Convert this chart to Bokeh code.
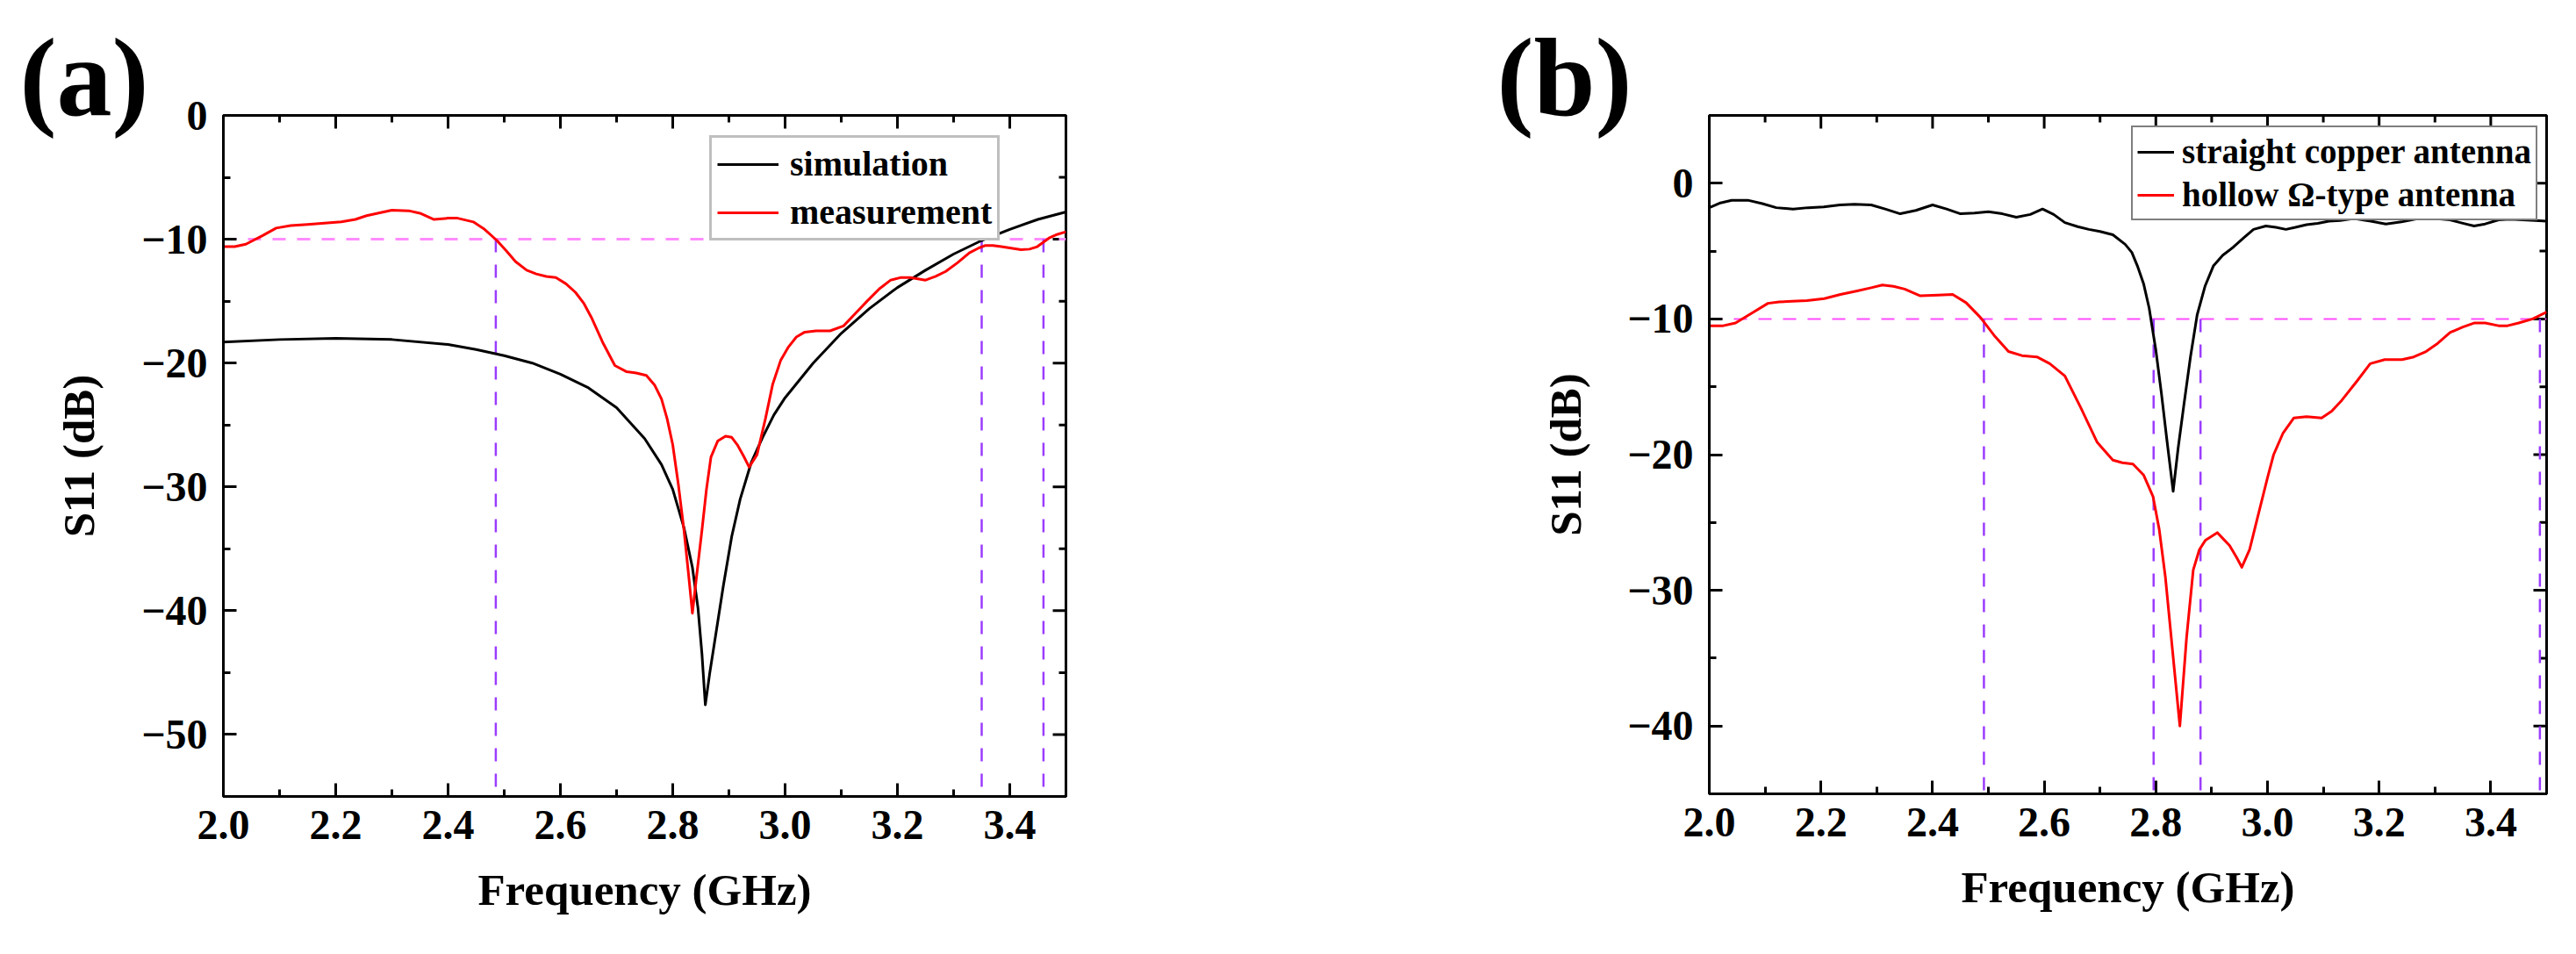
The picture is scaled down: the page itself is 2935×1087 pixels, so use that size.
import math
from bokeh.plotting import figure
from bokeh.models import Range1d, FixedTicker, Legend, LegendItem, Label
from bokeh.layouts import row, column
from bokeh.embed import file_html
from bokeh.resources import INLINE

FONT = "Liberation Serif"

# ---------------- data: panel (a) ----------------
sim_a_freq = [2.00, 2.10, 2.20, 2.30, 2.40, 2.45, 2.50, 2.55, 2.60, 2.65, 2.70, 2.75, 2.78,
              2.80, 2.82, 2.835, 2.845, 2.852, 2.858, 2.866, 2.877, 2.89, 2.905, 2.92, 2.94,
              2.96, 2.98, 3.00, 3.05, 3.10, 3.15, 3.20, 3.25, 3.30, 3.35, 3.40, 3.45, 3.50]
sim_a_s11 = [-18.3, -18.1, -18.0, -18.1, -18.5, -18.9, -19.4, -20.0, -20.9, -22.0, -23.6, -26.1,
             -28.2, -30.2, -33.3, -36.5, -39.8, -43.5, -47.6, -45.0, -41.8, -38.0, -34.0, -31.0,
             -28.0, -26.0, -24.2, -22.8, -20.0, -17.6, -15.6, -13.9, -12.5, -11.2, -10.1, -9.2,
             -8.4, -7.8]

meas_a_freq = [2.00, 2.02, 2.04, 2.07, 2.094, 2.12, 2.15, 2.18, 2.21, 2.235, 2.255, 2.28, 2.30,
               2.33, 2.35, 2.375, 2.40, 2.417, 2.445, 2.465, 2.487, 2.505, 2.52, 2.54, 2.557,
               2.575, 2.592, 2.61, 2.627, 2.642, 2.655, 2.675, 2.697, 2.718, 2.735, 2.753, 2.768,
               2.78, 2.79, 2.80, 2.81, 2.82, 2.828, 2.835, 2.843, 2.852, 2.86, 2.868, 2.88,
               2.894, 2.905, 2.915, 2.926, 2.936, 2.95, 2.965, 2.978, 2.992, 3.006, 3.02, 3.035,
               3.055, 3.08, 3.104, 3.125, 3.146, 3.168, 3.188, 3.205, 3.223, 3.25, 3.268, 3.286,
               3.307, 3.328, 3.345, 3.357, 3.37, 3.385, 3.40, 3.42, 3.435, 3.449, 3.47, 3.485,
               3.50]
meas_a_s11 = [-10.6, -10.6, -10.4, -9.7, -9.1, -8.9, -8.8, -8.7, -8.6, -8.4, -8.1, -7.85, -7.65,
              -7.7, -7.9, -8.4, -8.3, -8.3, -8.6, -9.2, -10.1, -11.0, -11.8, -12.5, -12.8,
              -13.0, -13.1, -13.6, -14.3, -15.2, -16.3, -18.3, -20.2, -20.7, -20.8, -21.0, -21.8,
              -22.9, -24.5, -26.6, -29.8, -33.5, -37.0, -40.2, -37.0, -33.5, -30.2, -27.6, -26.3,
              -25.9, -26.0, -26.6, -27.5, -28.4, -27.4, -24.5, -21.7, -19.8, -18.7, -17.9, -17.5,
              -17.4, -17.4, -17.0, -16.0, -15.0, -14.0, -13.3, -13.1, -13.1, -13.3, -13.0, -12.6,
              -11.9, -11.1, -10.7, -10.5, -10.5, -10.6, -10.7, -10.85, -10.8, -10.6, -9.9, -9.6,
              -9.4]

cut_freqs_a = [2.485, 3.35, 3.46]

# ---------------- data: panel (b) ----------------
copper_b_freq = [2.00, 2.02, 2.04, 2.069, 2.095, 2.12, 2.15, 2.177, 2.205, 2.234, 2.26, 2.29,
                 2.315, 2.342, 2.37, 2.40, 2.425, 2.45, 2.475, 2.50, 2.525, 2.55, 2.575, 2.597,
                 2.617, 2.637, 2.66, 2.68, 2.70, 2.723, 2.745, 2.757, 2.767, 2.778, 2.788, 2.80,
                 2.81, 2.82, 2.831, 2.84, 2.85, 2.862, 2.874, 2.888, 2.903, 2.92, 2.939, 2.958,
                 2.975, 2.997, 3.015, 3.033, 3.05, 3.07, 3.09, 3.11, 3.13, 3.155, 3.185, 3.212,
                 3.24, 3.27, 3.30, 3.327, 3.35, 3.37, 3.39, 3.414, 3.435, 3.457, 3.48, 3.50]
copper_b_s11 = [-1.8, -1.45, -1.26, -1.25, -1.5, -1.8, -1.9, -1.8, -1.75, -1.6, -1.55, -1.6,
                -1.9, -2.25, -2.0, -1.6, -1.9, -2.25, -2.2, -2.1, -2.25, -2.5, -2.3, -1.9,
                -2.3, -2.9, -3.2, -3.4, -3.55, -3.8, -4.5, -5.1, -6.1, -7.4, -9.2, -12.3,
                -15.5, -19.0, -22.7, -19.5, -16.4, -12.8, -9.7, -7.6, -6.1, -5.3, -4.7, -4.0,
                -3.4, -3.15, -3.25, -3.4, -3.25, -3.05, -2.95, -2.8, -2.75, -2.6, -2.8, -3.0,
                -2.85, -2.6, -2.6, -2.7, -2.95, -3.15, -3.0, -2.7, -2.65, -2.7, -2.75, -2.8]

omega_b_freq = [2.00, 2.025, 2.047, 2.075, 2.105, 2.125, 2.148, 2.175, 2.206, 2.235, 2.263,
                2.29, 2.31, 2.33, 2.35, 2.378, 2.41, 2.436, 2.46, 2.486, 2.51, 2.536, 2.56,
                2.587, 2.61, 2.637, 2.665, 2.695, 2.723, 2.74, 2.759, 2.778, 2.795, 2.806,
                2.817, 2.83, 2.843, 2.855, 2.867, 2.878, 2.889, 2.91, 2.932, 2.945, 2.954,
                2.968, 2.983, 3.0, 3.011, 3.028, 3.047, 3.07, 3.097, 3.115, 3.133, 3.16, 3.184,
                3.21, 3.241, 3.262, 3.284, 3.305, 3.327, 3.35, 3.37, 3.39, 3.414, 3.43, 3.45,
                3.475, 3.50]
omega_b_s11 = [-10.5, -10.5, -10.3, -9.6, -8.85, -8.75, -8.7, -8.65, -8.5, -8.2, -7.95,
               -7.7, -7.5, -7.6, -7.8, -8.3, -8.25, -8.2, -8.8, -9.9, -11.2, -12.4, -12.7,
               -12.8, -13.3, -14.2, -16.5, -19.1, -20.4, -20.6, -20.7, -21.5, -23.1, -25.5,
               -29.0, -34.5, -40.0, -33.5, -28.5, -27.0, -26.3, -25.75, -26.7, -27.6, -28.3,
               -27.0, -24.5, -21.7, -20.0, -18.4, -17.3, -17.2, -17.3, -16.8, -16.0, -14.6,
               -13.3, -13.0, -13.0, -12.8, -12.4, -11.8, -11.0, -10.6, -10.3, -10.3, -10.5,
               -10.5, -10.3, -10.0, -9.5]

cut_freqs_b = [2.492, 2.796, 2.88, 3.488]

ref_level = -10
panel_tags = ["(a)", "(b)"]

# ---------------- axes / ticks ----------------
x_range = (2.0, 3.5)
x_ticks = [2.0, 2.2, 2.4, 2.6, 2.8, 3.0, 3.2, 3.4]
x_tick_labels = ["2.0", "2.2", "2.4", "2.6", "2.8", "3.0", "3.2", "3.4"]
x_minor = [2.1, 2.3, 2.5, 2.7, 2.9, 3.1, 3.3, 3.5]

y_range_a = (-55, 0)
y_ticks_a = [0, -10, -20, -30, -40, -50]
y_tick_labels_a = ["0", "\u221210", "\u221220", "\u221230", "\u221240", "\u221250"]
y_minor_a = [-5, -15, -25, -35, -45, -55]

y_range_b = (-45, 5)
y_ticks_b = [0, -10, -20, -30, -40]
y_tick_labels_b = ["0", "\u221210", "\u221220", "\u221230", "\u221240"]
y_minor_b = [5, -5, -15, -25, -35, -45]

x_title = "Frequency (GHz)"
y_title = "S11 (dB)"

MAJOR_LEN = 15
MINOR_LEN = 8

# page geometry (px)
TOTAL_H = 1071
HEAD_H = 160       # strip holding the (a)/(b) tag
OVERLAP = 68       # chart figure slides up under the tag strip
TOP_BORDER = 39    # chart figure top -> frame top


def no_frame_align(fig):
    try:
        fig.frame_align = False
    except AttributeError:
        pass


def style_axis(ax, ticks, minor, labels, standoff, label_standoff):
    ax.ticker = FixedTicker(ticks=ticks, minor_ticks=minor)
    ax.axis_line_color = "black"
    ax.axis_line_width = 3
    ax.major_tick_line_color = "black"
    ax.major_tick_line_width = 3
    ax.major_tick_in = MAJOR_LEN
    ax.major_tick_out = 0
    ax.minor_tick_line_color = "black"
    ax.minor_tick_line_width = 3
    ax.minor_tick_in = MINOR_LEN
    ax.minor_tick_out = 0
    ax.major_label_overrides = dict(zip(ticks, labels))
    ax.major_label_text_font = FONT
    ax.major_label_text_font_style = "bold"
    ax.major_label_text_font_size = "48px"
    ax.major_label_text_color = "black"
    ax.major_label_standoff = standoff
    ax.axis_label_text_font = FONT
    ax.axis_label_text_font_style = "bold"
    ax.axis_label_text_font_size = "51px"
    ax.axis_label_text_color = "black"
    ax.axis_label_standoff = label_standoff


def make_header(width, tag, tag_x, tag_y):
    h = figure(width=width, height=HEAD_H, output_backend="svg", toolbar_location=None,
               x_range=Range1d(0, width), y_range=Range1d(0, HEAD_H),
               x_axis_type=None, y_axis_type=None,
               min_border_left=0, min_border_right=0, min_border_top=0, min_border_bottom=0)
    no_frame_align(h)
    h.outline_line_color = None
    h.grid.visible = False
    h.add_layout(Label(x=tag_x, y=tag_y, text=tag, text_font=FONT, text_font_style="bold",
                       text_font_size="126px", text_baseline="middle", text_align="left",
                       text_color="black"))
    return h


def make_panel(width, borders, y_rng, y_ticks, y_labels, y_minor, ylab_standoff):
    height = TOTAL_H - HEAD_H + OVERLAP
    p = figure(width=width, height=height, output_backend="svg", toolbar_location=None,
               x_range=Range1d(*x_range), y_range=Range1d(*y_rng),
               min_border_left=borders[0], min_border_right=borders[1],
               min_border_top=TOP_BORDER, min_border_bottom=borders[2])
    no_frame_align(p)
    p.margin = (-OVERLAP, 0, 0, 0)
    p.grid.visible = False
    p.outline_line_color = "black"
    p.outline_line_width = 3
    p.background_fill_color = "white"
    p.border_fill_alpha = 0.0
    p.xaxis.axis_label = x_title
    p.yaxis.axis_label = y_title
    style_axis(p.xaxis[0], x_ticks, x_minor, x_tick_labels, 16, 27)
    style_axis(p.yaxis[0], y_ticks, y_minor, y_labels, 18, ylab_standoff)
    # mirrored inward ticks on the top and right edges of the frame
    for tk, ln in ((x_ticks, MAJOR_LEN), (x_minor, MINOR_LEN)):
        p.ray(x=tk, y=[y_rng[1]] * len(tk), length=ln, angle=-math.pi / 2,
              length_units="screen", line_color="black", line_width=3)
    for tk, ln in ((y_ticks, MAJOR_LEN), (y_minor, MINOR_LEN)):
        p.ray(x=[x_range[1]] * len(tk), y=tk, length=ln, angle=math.pi,
              length_units="screen", line_color="black", line_width=3)
    return p


def style_legend(leg, size, gw, gh, standoff, spacing, padding, border_color, border_width):
    leg.label_text_font = FONT
    leg.label_text_font_style = "bold"
    leg.label_text_font_size = size
    leg.label_text_color = "black"
    leg.glyph_width = gw
    leg.glyph_height = gh
    leg.label_height = gh
    leg.label_standoff = standoff
    leg.spacing = spacing
    leg.padding = padding
    leg.margin = 0
    leg.border_line_color = border_color
    leg.border_line_width = border_width
    leg.background_fill_color = "white"
    leg.background_fill_alpha = 1.0


# ---------------- panel (a) ----------------
ha = make_header(1470, panel_tags[0], 22, HEAD_H - 88)
pa = make_panel(1470, (254, 256, 164), y_range_a, y_ticks_a, y_tick_labels_a, y_minor_a, 40)
pa.segment(x0=[x_range[0]], x1=[x_range[1]], y0=[ref_level], y1=[ref_level],
           line_color="#FF8CFF", line_width=3, line_dash="15 13")
pa.segment(x0=cut_freqs_a, x1=cut_freqs_a, y0=[ref_level] * len(cut_freqs_a),
           y1=[y_range_a[0]] * len(cut_freqs_a),
           line_color="#9B3CFF", line_width=2.5, line_dash="15 14")
ra1 = pa.line(sim_a_freq, sim_a_s11, line_color="black", line_width=3, line_join="round")
ra2 = pa.line(meas_a_freq, meas_a_s11, line_color="#FF0000", line_width=3, line_join="round")
leg_a = Legend(items=[LegendItem(label="simulation", renderers=[ra1]),
                      LegendItem(label="measurement", renderers=[ra2])],
               location=(554, 633))
style_legend(leg_a, "40px", 70, 46, 13, 8, 6, "#808080", 3)
pa.add_layout(leg_a)

# ---------------- panel (b) ----------------
hb = make_header(1449, panel_tags[1], 235, HEAD_H - 88)
pb = make_panel(1449, (477, 18, 167), y_range_b, y_ticks_b, y_tick_labels_b, y_minor_b, 39)
pb.segment(x0=[x_range[0]], x1=[x_range[1]], y0=[ref_level], y1=[ref_level],
           line_color="#FF4DFF", line_width=2, line_dash="15 13")
pb.segment(x0=cut_freqs_b, x1=cut_freqs_b, y0=[ref_level] * len(cut_freqs_b),
           y1=[y_range_b[0]] * len(cut_freqs_b),
           line_color="#9B3CFF", line_width=2.5, line_dash="15 14")
rb1 = pb.line(copper_b_freq, copper_b_s11, line_color="black", line_width=3, line_join="round")
rb2 = pb.line(omega_b_freq, omega_b_s11, line_color="#FF0000", line_width=3, line_join="round")
leg_b = Legend(items=[LegendItem(label="straight copper antenna", renderers=[rb1]),
                      LegendItem(label="hollow \u03a9-type antenna", renderers=[rb2])],
               location=(481, 653))
style_legend(leg_b, "39px", 42, 40, 9, 4, 5, "black", 2)
pb.add_layout(leg_b)

layout = row(column(ha, pa), column(hb, pb))
open("out.html", "w").write(file_html(layout, INLINE))
